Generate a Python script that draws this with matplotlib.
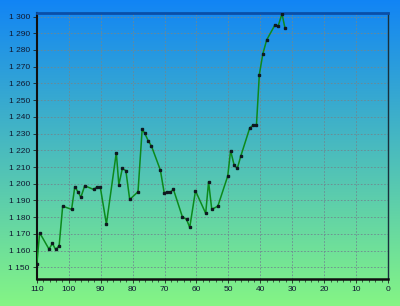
import numpy as np
import matplotlib
matplotlib.use("Agg")
import matplotlib.pyplot as plt
from matplotlib.ticker import MultipleLocator, FuncFormatter

# values (x runs from 110 down to 0)
x_vals = [110, 109.1, 106.2, 105.1, 104.1, 103.0, 101.9, 99.1, 98.1, 97.1,
          96.2, 95.0, 92.2, 91.1, 90.1, 88.2, 85.1, 84.3, 83.2, 82.1,
          80.9, 78.3, 77.0, 76.2, 75.1, 74.1, 71.3, 70.1, 69.1, 68.2,
          67.2, 64.4, 63.1, 62.1, 60.3, 57.1, 56.2, 55.2, 53.3, 50.2,
          49.3, 48.2, 47.2, 46.1, 43.3, 42.2, 41.2, 40.3, 39.2, 38.0,
          35.4, 34.4, 33.2, 32.3]
y_vals = [1152, 1170.7, 1161, 1164.3, 1160.7, 1162.9, 1186.6, 1184.7, 1198.2, 1195.2,
          1191.9, 1198.8, 1196.6, 1198.2, 1197.8, 1175.9, 1218.6, 1199.4, 1209.2, 1207.8,
          1190.6, 1195.2, 1232.6, 1230.2, 1225.7, 1222.6, 1208.2, 1194.6, 1195.0, 1195.0,
          1196.6, 1180.2, 1178.7, 1173.9, 1195.8, 1182.3, 1201.2, 1184.7, 1186.6, 1204.6,
          1219.8, 1211.2, 1209.2, 1216.6, 1233.4, 1235.1, 1235.1, 1265.3, 1277.7, 1286.0,
          1295.0, 1294.4, 1301.6, 1293.4]

y_ticks = list(range(1150, 1301, 10))
x_ticks = list(range(0, 111, 10))

fig = plt.figure(figsize=(4.0, 3.06), dpi=100)

# gradient background blue -> green over whole figure
top_col = np.array([0.07, 0.52, 0.96])
bot_col = np.array([0.52, 0.96, 0.52])
t = np.linspace(0, 1, 256)[:, None]
grad = top_col[None, :] * (1 - t) + bot_col[None, :] * t
grad = np.repeat(grad[:, None, :], 2, axis=1)
bg = fig.add_axes([0, 0, 1, 1], zorder=0)
bg.imshow(grad, aspect="auto", extent=[0, 1, 0, 1])
bg.axis("off")

ax = fig.add_axes([0.092, 0.089, 0.878, 0.869], zorder=1)
ax.patch.set_alpha(0)

ax.plot(x_vals, y_vals, "-", color="#0c8a1c", linewidth=1.1, zorder=3)
ax.plot(x_vals, y_vals, "s", color="#101820", markersize=1.5, zorder=4)

ax.set_xlim(110, 0)
ax.set_ylim(1143.2, 1302.2)
ax.set_xticks(x_ticks)
ax.set_yticks(y_ticks)
ax.xaxis.set_minor_locator(MultipleLocator(2))
ax.yaxis.set_major_formatter(FuncFormatter(lambda v, p: "{:,}".format(int(v)).replace(",", " ")))

ax.grid(True, which="major", color="#6f8890", linestyle=(0, (2, 2)), linewidth=0.6)
ax.tick_params(axis="both", which="major", length=3, width=0.6, color="#202020",
               labelsize=6, labelcolor="#101830", pad=2)
ax.tick_params(axis="x", which="minor", length=2, width=0.5, color="#202020")
for lab in ax.get_xticklabels() + ax.get_yticklabels():
    lab.set_family("Liberation Sans")

ax.spines["left"].set_color("#101010")
ax.spines["left"].set_linewidth(1.5)
ax.spines["bottom"].set_color("#101010")
ax.spines["bottom"].set_linewidth(1.8)
ax.spines["top"].set_color("#0a4fa8")
ax.spines["top"].set_linewidth(2.0)
ax.spines["right"].set_color("#18303c")
ax.spines["right"].set_linewidth(1.0)

fig.savefig("out.png", dpi=100)
